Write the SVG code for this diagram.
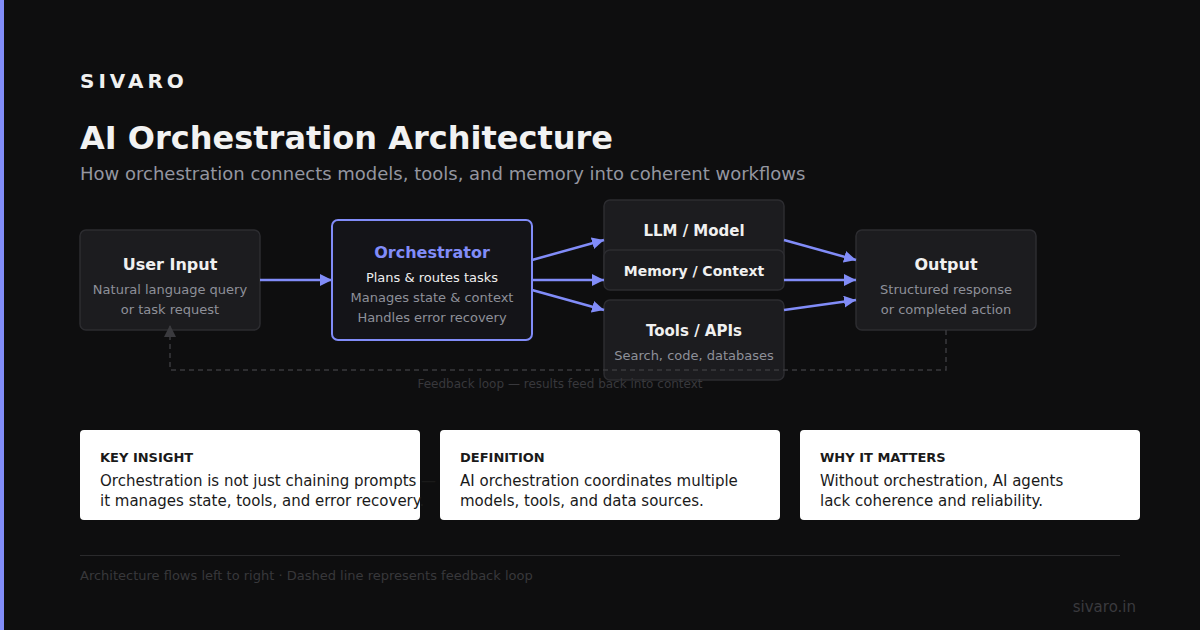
<svg xmlns="http://www.w3.org/2000/svg" width="1200" height="630" viewBox="0 0 1200 630">
<defs>
<marker id="arr" viewBox="0 0 10 10" refX="10" refY="5" markerWidth="12" markerHeight="12" markerUnits="userSpaceOnUse" orient="auto"><path d="M0,0 L10,5 L0,10 Z" fill="#818cf8"/></marker>
<marker id="arrg" viewBox="0 0 10 10" refX="10" refY="5" markerWidth="12" markerHeight="12" markerUnits="userSpaceOnUse" orient="auto"><path d="M0,0 L10,5 L0,10 Z" fill="#3a3a3e"/></marker>
<style>
text{font-family:"DejaVu Sans","Noto Sans",sans-serif}
.box{fill:#1c1c1f;stroke:#2c2c30;stroke-width:1.5}
.t{font-weight:bold;font-size:16px;fill:#f0f0f0;text-anchor:middle}
.s{font-size:13px;fill:#8e9099;text-anchor:middle}
.c{stroke:#818cf8;stroke-width:2.5;fill:none;marker-end:url(#arr)}
.card{fill:#ffffff}
.ch{font-weight:bold;font-size:13px;fill:#1a1a1a}
.cb{font-size:15px;fill:#1a1a1a}
</style>
</defs>
<rect width="1200" height="630" fill="#0e0e0f"/>
<rect x="0" y="0" width="4" height="630" fill="#818cf8"/>
<text x="80" y="88" font-size="20" font-weight="bold" fill="#f0f0f0" letter-spacing="4">SIVARO</text>
<text x="80" y="149" font-size="32" font-weight="bold" fill="#f2f2f2">AI Orchestration Architecture</text>
<text x="80" y="180" font-size="18" fill="#9496a0">How orchestration connects models, tools, and memory into coherent workflows</text>

<g id="user-input"><rect class="box" x="80" y="230" width="180" height="100" rx="6"/><text class="t" x="170" y="270">User Input</text><text class="s" x="170" y="294">Natural language query</text><text class="s" x="170" y="314">or task request</text></g>
<g id="orchestrator"><rect x="332" y="220" width="200" height="120" rx="6" fill="#141418" stroke="#818cf8" stroke-width="2"/><text class="t" x="432" y="258" style="fill:#818cf8">Orchestrator</text><text class="s" x="432" y="282" style="fill:#eeeeee">Plans &amp; routes tasks</text><text class="s" x="432" y="302">Manages state &amp; context</text><text class="s" x="432" y="322">Handles error recovery</text></g>
<g id="llm"><rect class="box" x="604" y="200" width="180" height="80" rx="6"/><text class="t" x="694" y="236" style="font-size:15px">LLM / Model</text></g>
<g id="memory"><rect class="box" x="604" y="250" width="180" height="40" rx="6"/><text class="t" x="694" y="276" style="font-size:14px">Memory / Context</text></g>
<g id="tools"><rect class="box" x="604" y="300" width="180" height="80" rx="6"/><text class="t" x="694" y="336" style="font-size:15px">Tools / APIs</text><text class="s" x="694" y="360">Search, code, databases</text></g>
<g id="output"><rect class="box" x="856" y="230" width="180" height="100" rx="6"/><text class="t" x="946" y="270">Output</text><text class="s" x="946" y="294">Structured response</text><text class="s" x="946" y="314">or completed action</text></g>

<g id="connectors">
<line class="c" x1="260" y1="280" x2="332" y2="280"/>
<line class="c" x1="532" y1="260" x2="604" y2="240"/>
<line class="c" x1="532" y1="280" x2="604" y2="280"/>
<line class="c" x1="532" y1="290" x2="604" y2="310"/>
<line class="c" x1="784" y1="240" x2="856" y2="260"/>
<line class="c" x1="784" y1="280" x2="856" y2="280"/>
<line class="c" x1="784" y1="310" x2="856" y2="300"/>
<path d="M946,330 V370 H170 V325" fill="none" stroke="#3a3a3e" stroke-width="1.5" stroke-dasharray="5,4" marker-end="url(#arrg)"/>
<text x="560" y="388" font-size="12" fill="#38383c" text-anchor="middle">Feedback loop — results feed back into context</text>
</g>

<g id="card-insight"><rect class="card" x="80" y="430" width="340" height="90" rx="4"/><text class="ch" x="100" y="462">KEY INSIGHT</text><text class="cb" x="100" y="486">Orchestration is not just chaining prompts —</text><text class="cb" x="100" y="506">it manages state, tools, and error recovery.</text></g>
<g id="card-definition"><rect class="card" x="440" y="430" width="340" height="90" rx="4"/><text class="ch" x="460" y="462">DEFINITION</text><text class="cb" x="460" y="486">AI orchestration coordinates multiple</text><text class="cb" x="460" y="506">models, tools, and data sources.</text></g>
<g id="card-why"><rect class="card" x="800" y="430" width="340" height="90" rx="4"/><text class="ch" x="820" y="462">WHY IT MATTERS</text><text class="cb" x="820" y="486">Without orchestration, AI agents</text><text class="cb" x="820" y="506">lack coherence and reliability.</text></g>

<line x1="80" y1="555.5" x2="1120" y2="555.5" stroke="#2a2a2c" stroke-width="1"/>
<text x="80" y="580" font-size="13" fill="#38383b">Architecture flows left to right · Dashed line represents feedback loop</text>
<text x="1136" y="612" font-size="15" fill="#3a3a3e" text-anchor="end">sivaro.in</text>
</svg>
